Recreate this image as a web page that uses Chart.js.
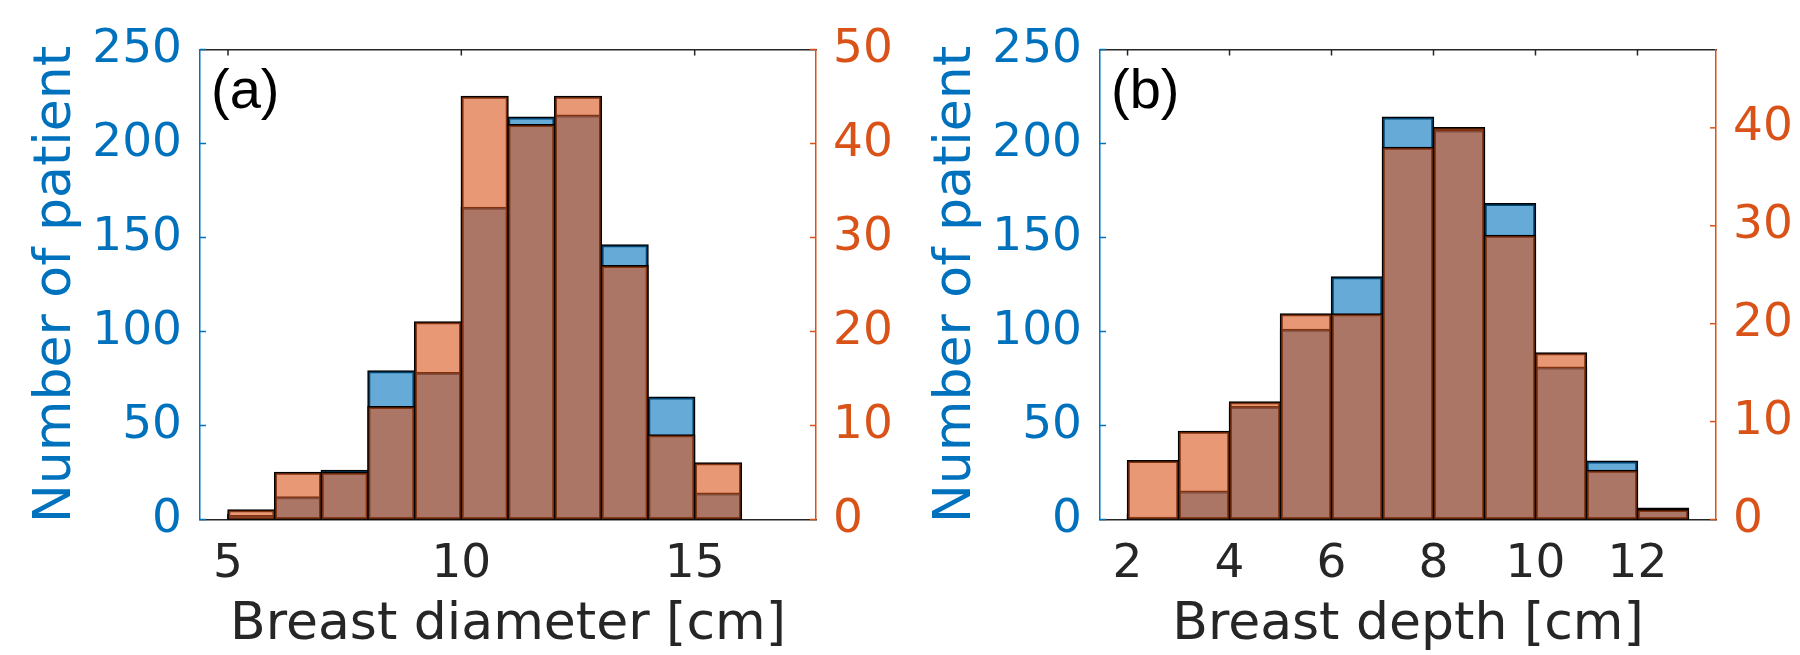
<!DOCTYPE html>
<html>
<head>
<meta charset="utf-8">
<script src="https://cdn.jsdelivr.net/npm/chart.js@4.4.0/dist/chart.umd.min.js"></script>
<style>
  html, body { margin: 0; padding: 0; background: #fff; }
  .panel { position: absolute; top: 0; width: 900px; height: 655px; }
  #panelA { left: 0; }
  #panelB { left: 900px; }
</style>
</head>
<body>
<div class="panel" id="panelA"><canvas id="chartA" width="900" height="655"></canvas></div>
<div class="panel" id="panelB"><canvas id="chartB" width="900" height="655"></canvas></div>
<script>
// histogram bins (centres, 1 cm wide)
var diameterBins = [5.5, 6.5, 7.5, 8.5, 9.5, 10.5, 11.5, 12.5, 13.5, 14.5, 15.5];
var diameterAll = [2, 12, 26, 79, 78, 166, 214, 215, 146, 65, 14];
var diameterSub = [1, 5, 5, 12, 21, 45, 42, 45, 27, 9, 6];

var depthBins = [2.5, 3.5, 4.5, 5.5, 6.5, 7.5, 8.5, 9.5, 10.5, 11.5, 12.5];
var depthAll = [1, 15, 60, 101, 129, 214, 207, 168, 81, 31, 6];
var depthSub = [6, 9, 12, 21, 21, 38, 40, 29, 17, 5, 1];

// axis limits
var diameterRange = [4.4, 17.6];
var depthRange = [1.46, 13.54];
var leftMax = 250;
var rightMaxA = 50;
var rightMaxB = 48;

var blue = "#0072BD";
var orange = "#D95319";
var dark = "#262626";
var tickFont = { family: "DejaVu Sans", size: 47 };
var titleFont = { family: "DejaVu Sans", size: 52, lineHeight: 1 };

// MATLAB style inward tick marks + panel letter
var matlabBox = {
  id: "matlabBox",
  beforeDatasetsDraw: function (chart) {
    var ctx = chart.ctx;
    var area = chart.chartArea;
    var len = 6;
    ctx.save();
    ctx.lineWidth = 1.5;
    ctx.strokeStyle = dark;
    chart.scales.x.ticks.forEach(function (t) {
      var px = chart.scales.x.getPixelForValue(t.value);
      ctx.beginPath();
      ctx.moveTo(px, area.bottom);
      ctx.lineTo(px, area.bottom - len);
      ctx.moveTo(px, area.top);
      ctx.lineTo(px, area.top + len);
      ctx.stroke();
    });
    ctx.strokeStyle = blue;
    chart.scales.y.ticks.forEach(function (t) {
      var py = chart.scales.y.getPixelForValue(t.value);
      ctx.beginPath();
      ctx.moveTo(area.left, py);
      ctx.lineTo(area.left + len, py);
      ctx.stroke();
    });
    ctx.strokeStyle = orange;
    chart.scales.y2.ticks.forEach(function (t) {
      var py = chart.scales.y2.getPixelForValue(t.value);
      ctx.beginPath();
      ctx.moveTo(area.right, py);
      ctx.lineTo(area.right - len, py);
      ctx.stroke();
    });
    ctx.restore();
  },
  afterDraw: function (chart, args, opts) {
    var ctx = chart.ctx;
    var area = chart.chartArea;
    ctx.save();
    ctx.font = "56px 'Liberation Sans'";
    ctx.fillStyle = "#000";
    ctx.textBaseline = "alphabetic";
    ctx.fillText(opts.label, area.left + 11, area.top + 58);
    ctx.restore();
  },
};

function makeChart(id, bins, all, sub, range, rightMax, step, xTitle, letter) {
  var ctx = document.getElementById(id).getContext("2d");
  return new Chart(ctx, {
    type: "bar",
    data: {
      datasets: [
        {
          data: bins.map(function (b, i) { return { x: b, y: all[i] }; }),
          backgroundColor: "rgba(0,114,189,0.6)",
          borderColor: "#000",
          borderWidth: 1.5,
          borderSkipped: false,
          inflateAmount: 0.75,
          barPercentage: 1,
          categoryPercentage: 1,
          grouped: false,
          yAxisID: "y",
          order: 1,
        },
        {
          data: bins.map(function (b, i) { return { x: b, y: sub[i] }; }),
          backgroundColor: "rgba(217,83,25,0.6)",
          borderColor: "#000",
          borderWidth: 1.5,
          borderSkipped: false,
          inflateAmount: 0.75,
          barPercentage: 1,
          categoryPercentage: 1,
          grouped: false,
          yAxisID: "y2",
          order: 0,
        },
      ],
    },
    options: {
      responsive: false,
      animation: false,
      devicePixelRatio: 1,
      layout: { padding: { top: 49.5, left: 0, right: 0, bottom: 0 } },
      plugins: {
        legend: { display: false },
        tooltip: { enabled: false },
        matlabBox: { label: letter },
      },
      scales: {
        x: {
          type: "linear",
          position: "bottom",
          offset: false,
          min: range[0],
          max: range[1],
          grid: { display: false, drawTicks: false, offset: false },
          border: { display: true, color: dark, width: 1.5 },
          ticks: { stepSize: step, includeBounds: false, color: dark, font: tickFont, padding: 17, maxRotation: 0 },
          title: { display: true, text: xTitle, color: dark, font: titleFont, padding: { top: 0, bottom: 4 } },
          afterFit: function (s) { s.height = 135.5; },
        },
        xTop: {
          type: "linear",
          position: "top",
          offset: false,
          min: range[0],
          max: range[1],
          grid: { display: false, drawTicks: false, offset: false },
          border: { display: true, color: dark, width: 1.5 },
          ticks: { display: false },
          afterFit: function (s) { s.height = 0; },
        },
        y: {
          position: "left",
          min: 0,
          max: leftMax,
          grid: { display: false, drawTicks: false },
          border: { display: true, color: blue, width: 1.5 },
          ticks: { stepSize: 50, color: blue, font: tickFont, padding: 18 },
          title: { display: true, text: "Number of patient", color: blue, font: titleFont, padding: { top: 30, bottom: 0 } },
          afterFit: function (s) { s.width = 200; },
        },
        y2: {
          position: "right",
          min: 0,
          max: rightMax,
          grid: { display: false, drawTicks: false },
          border: { display: true, color: orange, width: 1.5 },
          ticks: { stepSize: 10, includeBounds: false, color: orange, font: tickFont, padding: 17 },
          afterFit: function (s) { s.width = 84; },
        },
      },
    },
    plugins: [matlabBox],
  });
}

makeChart("chartA", diameterBins, diameterAll, diameterSub, diameterRange, rightMaxA, 5, "Breast diameter [cm]", "(a)");
makeChart("chartB", depthBins, depthAll, depthSub, depthRange, rightMaxB, 2, "Breast depth [cm]", "(b)");
</script>
</body>
</html>
